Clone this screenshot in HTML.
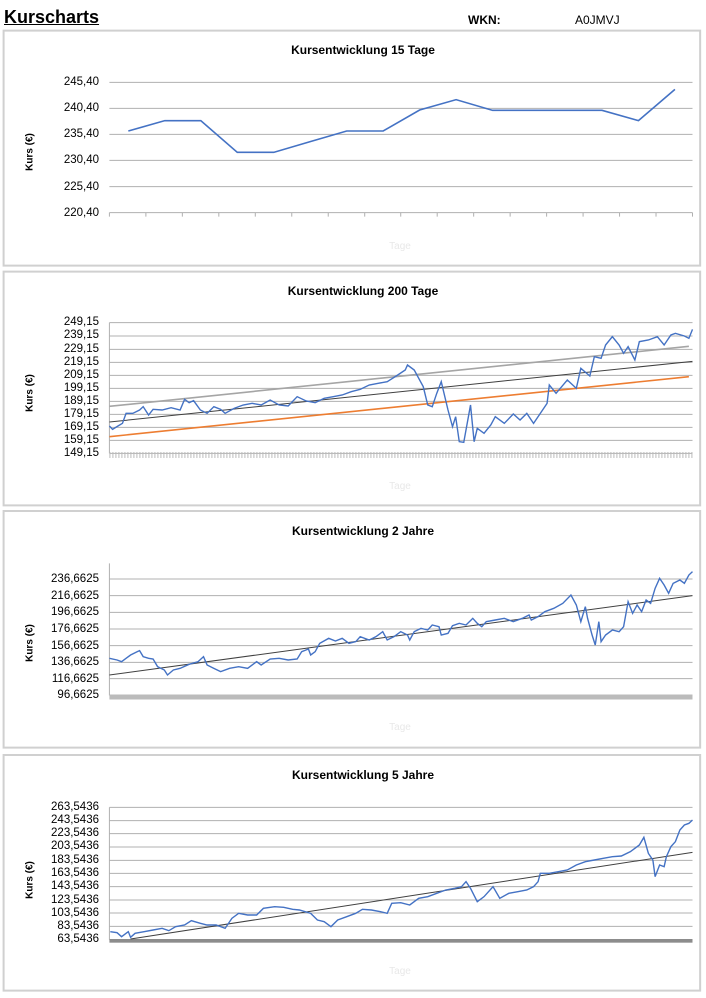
<!DOCTYPE html>
<html><head><meta charset="utf-8"><style>
body{margin:0;width:706px;height:998px;background:#fff;position:relative;overflow:hidden;font-family:"Liberation Sans",sans-serif;}
.a{position:absolute;}
svg.p{position:absolute;left:0;width:706px;}
.t{position:absolute;font-weight:bold;font-size:12px;transform:translateX(-50%);white-space:nowrap;color:#000;}
.lab{position:absolute;right:607px;font-size:11.5px;line-height:12px;text-align:right;color:#000;white-space:nowrap;}
.k{position:absolute;font-weight:bold;font-size:10px;transform:translate(-50%,-50%) rotate(-90deg);white-space:nowrap;}
.tg{position:absolute;font-size:10px;color:#e8e8e8;transform:translateX(-50%);}
svg *{vector-effect:non-scaling-stroke;}
</style></head><body>
<div class="a" style="left:4px;top:7px;font-size:18px;font-weight:bold;text-decoration:underline;">Kurscharts</div>
<div class="a" style="left:468px;top:13px;font-size:12px;font-weight:bold;">WKN:</div>
<div class="a" style="left:575px;top:13px;font-size:12px;">A0JMVJ</div>

<!-- Panel 1 -->
<svg class="p" style="top:0;height:270px" viewBox="0 0 1568 810" preserveAspectRatio="none">
<rect x="8" y="92" width="1547" height="705" fill="none" stroke="#d0d0d0" stroke-width="2"/>
<g stroke="#b0b0b0" stroke-width="1"><line x1="243" x2="1538" y1="247" y2="247"/><line x1="243" x2="1538" y1="325" y2="325"/><line x1="243" x2="1538" y1="403" y2="403"/><line x1="243" x2="1538" y1="481" y2="481"/><line x1="243" x2="1538" y1="560" y2="560"/><line x1="243" x2="1538" y1="638" y2="638"/>
<path d="M243 638v12M324 638v12M405 638v12M486 638v12M567 638v12M648 638v12M729 638v12M810 638v12M890 638v12M971 638v12M1052 638v12M1133 638v12M1214 638v12M1295 638v12M1376 638v12M1457 638v12M1538 638v12"/></g>
<polyline fill="none" stroke="#4472c4" stroke-width="1.6" points="285,393 366,362 446,362 527,457 608,457 689,425 770,393 851,393 932,330 1013,299 1094,331 1175,331 1256,331 1337,331 1418,362 1499,268"/>
</svg>
<div class="t" style="left:363px;top:43px">Kursentwicklung 15 Tage</div>
<div class="lab" style="top:76px">245,40</div><div class="lab" style="top:102px">240,40</div><div class="lab" style="top:128px">235,40</div><div class="lab" style="top:154px">230,40</div><div class="lab" style="top:181px">225,40</div><div class="lab" style="top:207px">220,40</div>
<div class="k" style="left:30px;top:152px">Kurs (€)</div>
<div class="tg" style="left:400px;top:241px">Tage</div>

<!-- Panel 2 -->
<svg class="p" style="top:270px;height:240px" viewBox="0 0 1568 720" preserveAspectRatio="none">
<rect x="8" y="5" width="1547" height="701" fill="none" stroke="#d0d0d0" stroke-width="2"/>
<g stroke="#b0b0b0" stroke-width="1"><path d="M243 158H1538M243 198H1538M243 238H1538M243 277H1538M243 316H1538M243 355H1538M243 394H1538M243 433H1538M243 472H1538M243 511H1538M243 550H1538M243 158V550"/></g>
<line x1="243" x2="1538" y1="555" y2="555" stroke="#bbb" stroke-width="6" stroke-dasharray="1 2"/>
<line x1="243" y1="409" x2="1530" y2="229" stroke="#a5a5a5" stroke-width="1.6"/>
<line x1="243" y1="456" x2="1538" y2="274" stroke="#404040" stroke-width="1"/>
<line x1="243" y1="500" x2="1530" y2="320" stroke="#ed7d31" stroke-width="1.6"/>
<polyline fill="none" stroke="#4472c4" stroke-width="1.4" points="243,468 250,478 262,468 272,460 280,430 295,430 310,420 318,410 330,435 340,418 360,420 380,413 400,420 410,388 420,398 430,392 445,420 460,430 475,410 490,418 500,430 520,415 540,405 560,400 580,405 600,390 620,405 640,408 660,380 680,393 700,398 720,385 740,380 760,375 780,365 800,358 820,345 840,340 860,335 880,318 900,300 905,285 920,300 940,350 950,405 960,410 970,370 980,335 995,420 1005,470 1012,440 1020,515 1030,517 1045,405 1053,515 1060,475 1075,490 1090,465 1100,440 1120,460 1140,432 1155,450 1170,430 1185,460 1200,430 1215,400 1220,345 1235,370 1260,330 1280,355 1290,295 1310,318 1320,260 1335,265 1345,225 1360,200 1375,225 1385,250 1395,230 1410,270 1420,215 1440,210 1460,200 1475,225 1490,195 1500,190 1520,198 1530,205 1538,178"/>
</svg>
<div class="t" style="left:363px;top:284px">Kursentwicklung 200 Tage</div>
<div class="lab" style="top:316px">249,15</div><div class="lab" style="top:329px">239,15</div><div class="lab" style="top:343px">229,15</div><div class="lab" style="top:356px">219,15</div><div class="lab" style="top:369px">209,15</div><div class="lab" style="top:382px">199,15</div><div class="lab" style="top:395px">189,15</div><div class="lab" style="top:408px">179,15</div><div class="lab" style="top:421px">169,15</div><div class="lab" style="top:434px">159,15</div><div class="lab" style="top:447px">149,15</div>
<div class="k" style="left:30px;top:393px">Kurs (€)</div>
<div class="tg" style="left:400px;top:481px">Tage</div>

<!-- Panel 3 -->
<svg class="p" style="top:505px;height:245px" viewBox="0 0 1568 735" preserveAspectRatio="none">
<rect x="8" y="18" width="1547" height="710" fill="none" stroke="#d0d0d0" stroke-width="2"/>
<g stroke="#b0b0b0" stroke-width="1"><path d="M243 222H1538M243 272H1538M243 322H1538M243 372H1538M243 422H1538M243 472H1538M243 521H1538M243 571H1538M243 175V571"/></g>
<line x1="243" x2="1538" y1="576" y2="576" stroke="#bbb" stroke-width="5"/>
<line x1="243" y1="510" x2="1538" y2="272" stroke="#404040" stroke-width="1"/>
<polyline fill="none" stroke="#4472c4" stroke-width="1.4" points="243,460 260,465 270,470 280,460 290,450 305,440 310,437 318,455 330,460 340,462 350,485 365,495 372,510 385,495 400,490 420,478 440,470 452,455 460,480 475,490 490,500 510,490 530,485 550,490 570,470 580,480 600,462 620,460 640,465 660,462 670,440 685,432 690,450 700,440 710,415 730,400 745,408 760,400 775,415 790,410 800,395 820,405 835,395 850,380 860,405 875,395 890,380 905,390 910,405 920,380 935,370 950,375 960,360 975,365 980,390 995,385 1005,362 1020,355 1035,360 1050,340 1060,355 1070,365 1080,350 1100,345 1120,340 1140,350 1160,340 1175,330 1180,345 1195,335 1210,320 1230,310 1250,295 1268,270 1280,300 1290,350 1300,305 1305,340 1315,390 1322,420 1330,350 1335,410 1345,390 1360,375 1375,380 1385,365 1395,290 1405,325 1415,300 1425,320 1435,285 1445,295 1455,250 1465,220 1475,240 1485,265 1495,235 1510,225 1520,235 1530,210 1538,200"/>
</svg>
<div class="t" style="left:363px;top:524px">Kursentwicklung 2 Jahre</div>
<div class="lab" style="top:573px">236,6625</div><div class="lab" style="top:590px">216,6625</div><div class="lab" style="top:606px">196,6625</div><div class="lab" style="top:623px">176,6625</div><div class="lab" style="top:640px">156,6625</div><div class="lab" style="top:656px">136,6625</div><div class="lab" style="top:673px">116,6625</div><div class="lab" style="top:689px">96,6625</div>
<div class="k" style="left:30px;top:643px">Kurs (€)</div>
<div class="tg" style="left:400px;top:722px">Tage</div>

<!-- Panel 4 -->
<svg class="p" style="top:750px;height:248px" viewBox="0 0 1568 744" preserveAspectRatio="none">
<rect x="8" y="15" width="1547" height="707" fill="none" stroke="#d0d0d0" stroke-width="2"/>
<g stroke="#b0b0b0" stroke-width="1"><path d="M243 172H1538M243 212H1538M243 251H1538M243 291H1538M243 331H1538M243 370H1538M243 410H1538M243 450H1538M243 489H1538M243 529H1538M243 172V569"/></g>
<rect x="243" y="567" width="1295" height="11" fill="#8c8c8c"/>
<line x1="290" y1="567" x2="1538" y2="307" stroke="#404040" stroke-width="1"/>
<polyline fill="none" stroke="#4472c4" stroke-width="1.4" points="245,545 260,548 270,560 285,545 290,562 300,550 320,545 340,540 360,535 375,542 390,530 410,525 425,512 445,520 460,525 480,525 500,535 515,505 530,490 550,495 570,495 585,475 610,470 630,472 650,478 665,480 690,490 705,510 720,515 735,530 750,510 770,500 790,490 805,478 825,480 845,485 860,490 870,460 890,458 910,465 930,445 950,440 970,430 990,420 1010,415 1025,410 1035,395 1045,415 1060,455 1075,440 1095,410 1110,445 1130,430 1150,425 1170,420 1185,410 1195,395 1200,370 1220,370 1240,365 1260,360 1280,345 1300,335 1320,330 1340,325 1360,320 1380,318 1400,305 1420,285 1430,262 1440,310 1450,330 1455,380 1465,345 1475,350 1480,320 1490,290 1500,275 1510,240 1520,225 1530,220 1538,210"/>
</svg>
<div class="t" style="left:363px;top:768px">Kursentwicklung 5 Jahre</div>
<div class="lab" style="top:801px">263,5436</div><div class="lab" style="top:814px">243,5436</div><div class="lab" style="top:827px">223,5436</div><div class="lab" style="top:840px">203,5436</div><div class="lab" style="top:854px">183,5436</div><div class="lab" style="top:867px">163,5436</div><div class="lab" style="top:880px">143,5436</div><div class="lab" style="top:894px">123,5436</div><div class="lab" style="top:907px">103,5436</div><div class="lab" style="top:920px">83,5436</div><div class="lab" style="top:933px">63,5436</div>
<div class="k" style="left:30px;top:880px">Kurs (€)</div>
<div class="tg" style="left:400px;top:966px">Tage</div>
</body></html>
